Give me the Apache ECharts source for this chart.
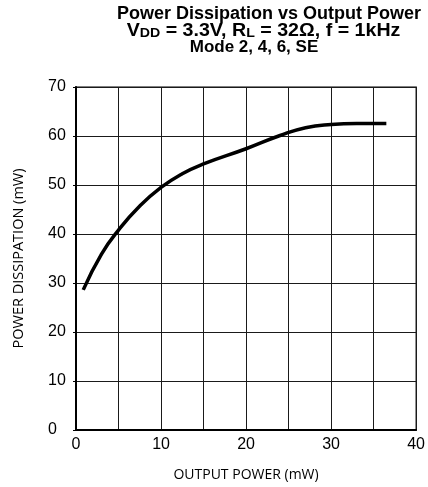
<!DOCTYPE html>
<html>
<head>
<meta charset="utf-8">
<script src="https://cdn.jsdelivr.net/npm/echarts@6/dist/echarts.min.js"></script>
<style>
  html, body { margin: 0; padding: 0; background: #fff; }
  #chart { width: 428px; height: 487px; }
</style>
</head>
<body>
<div id="chart"></div>
<script>
// Output power (mW) and the matching power dissipation (mW)
const outputPower = [0.85, 3, 5, 7.5, 10, 12.5, 15, 20, 24, 27, 30, 33, 36.5];
const dissipation = [28.6, 35.9, 40.8, 45.7, 49.5, 52.3, 54.3, 57.4, 60.1, 61.7, 62.35, 62.55, 62.55];

const xTicks = [0, 10, 20, 30, 40];
const yTicks = [0, 10, 20, 30, 40, 50, 60, 70];

// Three title lines; the second carries the V_DD and R_L subscripts
const titleLines = [
  '{m|Power Dissipation vs Output Power}',
  '{m|V}{s|DD}{m| = 3.3V, R}{s|L}{m| = 32Ω, f = 1kHz}',
  '{n|Mode 2, 4, 6, SE}'
];

const chart = echarts.init(document.getElementById('chart'), null, { renderer: 'canvas' });

const titleFont = 'Liberation Sans, Arial, sans-serif';
const labelFont = 'Open Sans, Noto Sans, sans-serif';

const titleRich = {
  m: { fontFamily: titleFont, fontWeight: 'bold', fontSize: 18, lineHeight: 17, fill: '#000', verticalAlign: 'bottom' },
  n: { fontFamily: titleFont, fontWeight: 'bold', fontSize: 17, lineHeight: 17, fill: '#000', verticalAlign: 'bottom' },
  s: { fontFamily: titleFont, fontWeight: 'bold', fontSize: 13, lineHeight: 8, fill: '#000', verticalAlign: 'bottom' }
};
const titleCenters = [269, 263.5, 254];
const titleTops = [6, 23, 39];
const titleStretch = [1, 1.09, 1];

chart.setOption({
  animation: false,
  backgroundColor: '#ffffff',
  graphic: titleLines.map((t, i) => ({
    type: 'text',
    x: titleCenters[i],
    y: titleTops[i],
    scaleX: titleStretch[i],
    style: { x: 0, y: 0, align: 'center', verticalAlign: 'top', text: t, rich: titleRich }
  })),
  grid: {
    left: 76,
    right: 9,
    top: 87,
    bottom: 57,
    show: true,
    borderColor: '#555',
    borderWidth: 1.5,
    containLabel: false
  },
  xAxis: {
    type: 'value',
    min: xTicks[0],
    max: xTicks[xTicks.length - 1],
    interval: 5,
    name: 'OUTPUT POWER (mW)',
    nameLocation: 'middle',
    nameGap: 38,
    nameTextStyle: { fontFamily: labelFont, fontSize: 14, color: '#000' },
    axisLine: { show: true, lineStyle: { color: '#000', width: 2 } },
    axisTick: { show: false },
    axisLabel: {
      margin: 7,
      fontFamily: titleFont,
      fontSize: 16,
      color: '#000',
      formatter: v => (xTicks.indexOf(v) >= 0 ? String(v) : '')
    },
    splitLine: { show: true, lineStyle: { color: '#1a1a1a', width: 1 } }
  },
  yAxis: {
    type: 'value',
    min: yTicks[0],
    max: yTicks[yTicks.length - 1],
    interval: 10,
    name: 'POWER DISSIPATION (mW)',
    nameLocation: 'middle',
    nameGap: 50,
    nameTextStyle: { fontFamily: labelFont, fontSize: 14.5, color: '#000' },
    axisLine: { show: true, lineStyle: { color: '#000', width: 2 } },
    axisTick: { show: true, length: 3, lineStyle: { color: '#000', width: 1 } },
    axisLabel: {
      margin: 28,
      align: 'left',
      fontFamily: titleFont,
      fontSize: 16,
      color: '#000'
    },
    splitLine: { show: true, lineStyle: { color: '#1a1a1a', width: 1 } }
  },
  series: [{
    type: 'line',
    data: outputPower.map((x, i) => [x, dissipation[i]]),
    smooth: 0.5,
    showSymbol: false,
    lineStyle: { color: '#000', width: 3.5 }
  }]
});
</script>
</body>
</html>
